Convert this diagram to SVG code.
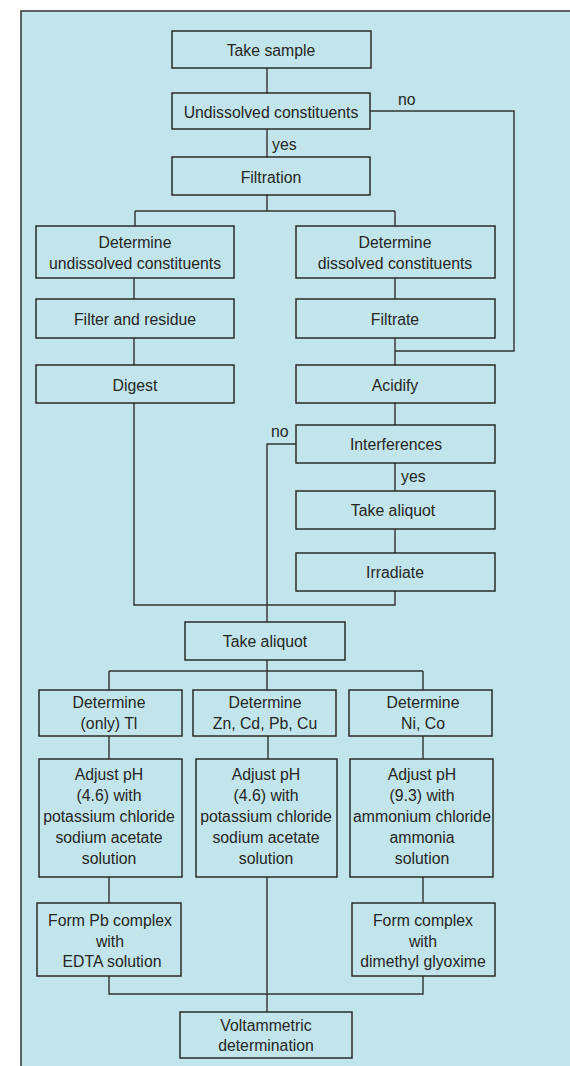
<svg xmlns="http://www.w3.org/2000/svg" width="570" height="1066" viewBox="0 0 570 1066">
<style>
.bx{fill:#c1e5ea;stroke:#2b2b2b;stroke-width:1.5}
.ln{fill:none;stroke:#333;stroke-width:1.4}
text{font-family:"Liberation Sans",Arial,sans-serif;font-size:15.8px;fill:#262626;text-anchor:middle}
.lb{text-anchor:start}
</style>
<rect width="570" height="1066" fill="#ffffff"/>
<rect x="21" y="11" width="600" height="1100" fill="#c1e5ea" stroke="#333" stroke-width="1.5"/>
<g id="connectors">
<path class="ln" d="M267 68V93M267 129V157M370 111H514V351H395M267 195V211M135 211H395M135 211V226M395 211V226"/>
<path class="ln" d="M134 278V299M395 278V299M134 338V365M395 338V365M395 403V425"/>
<path class="ln" d="M296 444H267V622M395 463V491M395 529V553M395 591V605H134V403"/>
<path class="ln" d="M267 660V671M109 671H423M109 671V690M267 671V690M423 671V690"/>
<path class="ln" d="M109 736V759M268 736V759M423 736V759M109 877V903M423 877V903M267 877V1012M109 976V994H423V976"/>
<text class="lb" x="398" y="105">no</text>
<text class="lb" x="272" y="150">yes</text>
<text class="lb" x="271" y="437">no</text>
<text class="lb" x="401" y="482">yes</text>
</g>
<g id="take-sample"><rect class="bx" x="172" y="31" width="199" height="37"/><text x="271" y="56">Take sample</text></g>
<g id="undissolved"><rect class="bx" x="172" y="93" width="198" height="36"/><text x="271" y="117.5">Undissolved constituents</text></g>
<g id="filtration"><rect class="bx" x="172" y="157" width="198" height="38"/><text x="271" y="183">Filtration</text></g>
<g id="det-undissolved"><rect class="bx" x="36" y="226" width="198" height="52"/><text x="135" y="247.5">Determine</text><text x="135" y="268.5">undissolved constituents</text></g>
<g id="det-dissolved"><rect class="bx" x="296" y="226" width="199" height="52"/><text x="395" y="247.5">Determine</text><text x="395" y="268.5">dissolved constituents</text></g>
<g id="filter-residue"><rect class="bx" x="36" y="299" width="198" height="39"/><text x="135" y="324.5">Filter and residue</text></g>
<g id="filtrate"><rect class="bx" x="296" y="299" width="199" height="39"/><text x="395" y="324.5">Filtrate</text></g>
<g id="digest"><rect class="bx" x="36" y="365" width="198" height="38"/><text x="135" y="390.5">Digest</text></g>
<g id="acidify"><rect class="bx" x="296" y="365" width="199" height="38"/><text x="395" y="390.5">Acidify</text></g>
<g id="interferences"><rect class="bx" x="296" y="425" width="199" height="38"/><text x="396" y="450">Interferences</text></g>
<g id="take-aliquot-1"><rect class="bx" x="296" y="491" width="199" height="38"/><text x="393" y="516">Take aliquot</text></g>
<g id="irradiate"><rect class="bx" x="296" y="553" width="199" height="38"/><text x="395" y="578">Irradiate</text></g>
<g id="take-aliquot-2"><rect class="bx" x="185" y="622" width="160" height="38"/><text x="265" y="647">Take aliquot</text></g>
<g id="det-tl"><rect class="bx" x="39" y="690" width="143" height="46"/><text x="109" y="708">Determine</text><text x="109" y="729">(only) Tl</text></g>
<g id="det-zn"><rect class="bx" x="193" y="690" width="143" height="46"/><text x="265" y="708">Determine</text><text x="265" y="729">Zn, Cd, Pb, Cu</text></g>
<g id="det-ni"><rect class="bx" x="349" y="690" width="143" height="46"/><text x="423" y="708">Determine</text><text x="423" y="729">Ni, Co</text></g>
<g id="ph-left"><rect class="bx" x="39" y="759" width="143" height="118"/><text x="109" y="780">Adjust pH</text><text x="109" y="801">(4.6) with</text><text x="109" y="822">potassium chloride</text><text x="109" y="843">sodium acetate</text><text x="109" y="864">solution</text></g>
<g id="ph-mid"><rect class="bx" x="196" y="759" width="141" height="118"/><text x="266" y="780">Adjust pH</text><text x="266" y="801">(4.6) with</text><text x="266" y="822">potassium chloride</text><text x="266" y="843">sodium acetate</text><text x="266" y="864">solution</text></g>
<g id="ph-right"><rect class="bx" x="350" y="759" width="143" height="118"/><text x="422" y="780">Adjust pH</text><text x="422" y="801">(9.3) with</text><text x="422" y="822">ammonium chloride</text><text x="422" y="843">ammonia</text><text x="422" y="864">solution</text></g>
<g id="form-pb"><rect class="bx" x="37" y="903" width="144" height="73"/><text x="110" y="926">Form Pb complex</text><text x="110" y="947">with</text><text x="112" y="967">EDTA solution</text></g>
<g id="form-ni"><rect class="bx" x="352" y="903" width="143" height="73"/><text x="423" y="926">Form complex</text><text x="423" y="947">with</text><text x="423" y="967">dimethyl glyoxime</text></g>
<g id="voltammetric"><rect class="bx" x="180" y="1012" width="172" height="46"/><text x="266" y="1031">Voltammetric</text><text x="266" y="1051">determination</text></g>
</svg>
